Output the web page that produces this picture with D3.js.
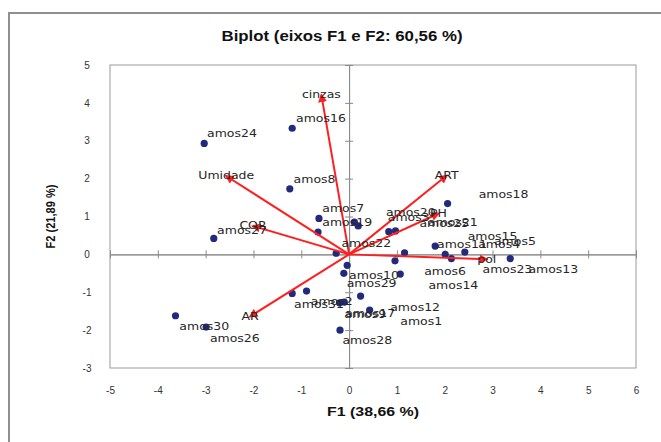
<!DOCTYPE html>
<html>
<head>
<meta charset="utf-8">
<script src="https://cdn.jsdelivr.net/npm/d3@7/dist/d3.min.js"></script>
<style>
body { margin: 0; background: #fff; }
</style>
</head>
<body>
<div id="chart"></div>
<script>
var obsX = [-3.03, -1.19, -1.24, -0.63, -0.65, 0.11, 0.19, -2.83, -0.27, 2.06,
	0.83, 0.97, 1.80, 1.16, 2.01, 2.42, 2.14, 3.37, 0.96, -0.04,
	-0.11, 1.07, 0.24, -0.20, -0.10, 0.43, -1.19, -0.89, -3.63, -2.99, -0.19];
var obsY = [2.93, 3.33, 1.73, 0.95, 0.59, 0.85, 0.75, 0.42, 0.03, 1.34,
	0.60, 0.62, 0.22, 0.04, 0.00, 0.06, -0.11, -0.11, -0.17, -0.29,
	-0.50, -0.52, -1.10, -1.28, -1.26, -1.47, -1.03, -0.97, -1.62, -1.92, -2.00];

// observation labels (as placed in the chart)
var labNames = ["amos24", "amos16", "amos8", "amos7", "amos19", "amos27", "amos22", "amos20",
	"amos3", "amos25", "amos21", "amos18", "amos15", "amos11", "amos4", "amos5",
	"amos6", "amos23", "amos13", "amos14", "amos10", "amos29", "amos2", "amos31",
	"amos9", "amos17", "amos12", "amos1", "amos30", "amos26", "amos28"];
var labX = [-2.97, -1.11, -1.16, -0.56, -0.56, -2.76, -0.16, 0.77,
	0.81, 1.47, 1.65, 2.71, 2.48, 1.84, 2.70, 3.03,
	1.57, 2.79, 3.75, 1.66, 0.00, -0.05, -0.80, -1.15,
	-0.10, -0.08, 0.86, 1.07, -3.55, -2.91, -0.14];
var labY = [3.18, 3.59, 1.99, 1.22, 0.84, 0.64, 0.29, 1.10,
	0.97, 0.82, 0.84, 1.59, 0.47, 0.25, 0.25, 0.33,
	-0.46, -0.39, -0.39, -0.81, -0.56, -0.78, -1.25, -1.32,
	-1.58, -1.55, -1.39, -1.78, -1.91, -2.21, -2.28];

// variables (red vectors)
var varNames = ["cinzas", "Umidade", "COR", "ART", "PH", "pol", "AR"];
var varX = [-0.58, -2.57, -2.01, 2.04, 1.87, 2.88, -2.07];
var varY = [4.21, 2.07, 0.75, 2.08, 1.08, -0.13, -1.64];

var xTicks = [-5, -4, -3, -2, -1, 0, 1, 2, 3, 4, 5, 6];
var yTicks = [-3, -2, -1, 0, 1, 2, 3, 4, 5];

var W = 661, H = 442;
var pLeft = 110, pRight = 636, pTop = 65, pBottom = 368;
var stretch = 1.25; // the picture is wider than tall, text looks stretched

var svg = d3.select("#chart").append("svg")
	.attr("width", W)
	.attr("height", H);

var x = d3.scaleLinear().domain([-5, 6]).range([pLeft, pRight]);
var y = d3.scaleLinear().domain([-3, 5]).range([pBottom, pTop]);

// outer chart border
svg.append("rect")
	.attr("x", 9).attr("y", 13)
	.attr("width", 700).attr("height", 500)
	.attr("fill", "none")
	.attr("stroke", "#8f8f8f")
	.attr("stroke-width", 2);

// title
svg.append("text")
	.attr("x", 342).attr("y", 41)
	.attr("text-anchor", "middle")
	.attr("font-family", "Liberation Sans, Arial, sans-serif")
	.attr("font-weight", "bold")
	.attr("font-size", 14)
	.attr("fill", "#111")
	.attr("textLength", 241)
	.attr("lengthAdjust", "spacingAndGlyphs")
	.text("Biplot (eixos F1 e F2: 60,56 %)");

// plot area frame
svg.append("rect")
	.attr("x", pLeft).attr("y", pTop)
	.attr("width", pRight - pLeft).attr("height", pBottom - pTop)
	.attr("fill", "none")
	.attr("stroke", "#9a9a9a")
	.attr("stroke-width", 1);

// zero axes with cross ticks
function zeroAxis(axis, tr) {
	var g = svg.append("g").attr("transform", tr).call(axis);
	g.selectAll("text").remove();
	g.selectAll("path, line").attr("stroke", "#8a8a8a");
	return g;
}
zeroAxis(d3.axisBottom(x).tickValues(xTicks).tickSizeInner(4).tickSizeOuter(0), "translate(0," + y(0) + ")");
zeroAxis(d3.axisTop(x).tickValues(xTicks).tickSizeInner(4).tickSizeOuter(0), "translate(0," + y(0) + ")");
zeroAxis(d3.axisLeft(y).tickValues(yTicks).tickSizeInner(4).tickSizeOuter(0), "translate(" + x(0) + ",0)");
zeroAxis(d3.axisRight(y).tickValues(yTicks).tickSizeInner(4).tickSizeOuter(0), "translate(" + x(0) + ",0)");

// tick labels at the low side of the plot
var xl = svg.append("g")
	.attr("transform", "translate(0," + (pBottom + 16) + ")")
	.call(d3.axisBottom(x).tickValues(xTicks).tickSize(0).tickFormat(d3.format("d")));
xl.select(".domain").remove();
xl.selectAll("text")
	.attr("font-family", "Liberation Sans, Arial, sans-serif")
	.attr("font-size", 10)
	.attr("fill", "#333")
	.text(function(d) { return String(d); });

var yl = svg.append("g")
	.attr("transform", "translate(" + (pLeft - 20) + ",0)")
	.call(d3.axisLeft(y).tickValues(yTicks).tickSize(0).tickFormat(d3.format("d")));
yl.select(".domain").remove();
yl.selectAll("text")
	.attr("font-family", "Liberation Sans, Arial, sans-serif")
	.attr("font-size", 10)
	.attr("fill", "#333")
	.attr("text-anchor", "middle")
	.text(function(d) { return String(d); });

// axis titles
svg.append("text")
	.attr("x", (pLeft + pRight) / 2).attr("y", 416)
	.attr("text-anchor", "middle")
	.attr("font-family", "Liberation Sans, Arial, sans-serif")
	.attr("font-weight", "bold")
	.attr("font-size", 12)
	.attr("fill", "#111")
	.attr("textLength", 92)
	.attr("lengthAdjust", "spacingAndGlyphs")
	.text("F1 (38,66 %)");

svg.append("text")
	.attr("transform", "translate(55," + ((pTop + pBottom) / 2) + ") rotate(-90)")
	.attr("text-anchor", "middle")
	.attr("font-family", "Liberation Sans, Arial, sans-serif")
	.attr("font-weight", "bold")
	.attr("font-size", 12)
	.attr("fill", "#111")
	.attr("textLength", 64)
	.attr("lengthAdjust", "spacingAndGlyphs")
	.text("F2 (21,89 %)");

// arrowhead
svg.append("defs").append("marker")
	.attr("id", "head")
	.attr("viewBox", "0 0 10 10")
	.attr("refX", 8).attr("refY", 5)
	.attr("markerWidth", 9).attr("markerHeight", 9)
	.attr("markerUnits", "userSpaceOnUse")
	.attr("orient", "auto")
	.append("path")
	.attr("d", "M0,0 L10,5 L0,10 z")
	.attr("fill", "#ff1f1f");

// observation dots
var obs = obsX.map(function(d, i) { return {x: d, y: obsY[i]}; });
svg.append("g").selectAll("circle")
	.data(obs)
	.enter().append("circle")
	.attr("cx", function(d) { return x(d.x); })
	.attr("cy", function(d) { return y(d.y); })
	.attr("r", 3.6)
	.attr("fill", "#222a7c");

// variable vectors
var vars = varNames.map(function(n, i) { return {name: n, x: varX[i], y: varY[i]}; });
svg.append("g").selectAll("line")
	.data(vars)
	.enter().append("line")
	.attr("x1", x(0)).attr("y1", y(0))
	.attr("x2", function(d) { return x(d.x); })
	.attr("y2", function(d) { return y(d.y); })
	.attr("stroke", "#ff1f1f")
	.attr("stroke-width", 2)
	.attr("marker-end", "url(#head)");

// labels
function label(g, tx, ty, anchor, txt) {
	g.append("g")
		.attr("transform", "translate(" + tx + "," + ty + ") scale(" + stretch + ",1)")
		.append("text")
		.attr("dy", "0.35em")
		.attr("text-anchor", anchor)
		.attr("font-family", "DejaVu Sans, Verdana, sans-serif")
		.attr("font-size", 10)
		.attr("fill", "#262626")
		.text(txt);
}

var lg = svg.append("g");
labNames.forEach(function(n, i) {
	label(lg, x(labX[i]), y(labY[i]), "start", n);
});
vars.forEach(function(d) {
	label(lg, x(d.x), y(d.y), "middle", d.name);
});
</script>
</body>
</html>
